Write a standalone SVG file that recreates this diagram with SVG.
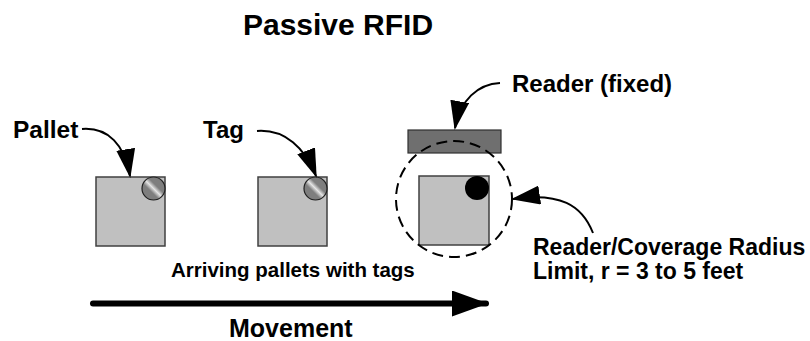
<svg xmlns="http://www.w3.org/2000/svg" width="810" height="341" viewBox="0 0 810 341">
  <style>
    .lbl { font-family: "Liberation Sans", Arial, sans-serif; font-weight: bold; fill: #000; }
    .pallet { fill: #c0c0c0; stroke: #404040; stroke-width: 1.5; }
    .tag { fill: url(#tagShine); stroke: #202020; stroke-width: 1.2; }
    .callout { fill: none; stroke: #000; stroke-width: 2; marker-end: url(#head); }
  </style>
  <defs>
    <linearGradient id="tagShine" x1="0" y1="1" x2="1" y2="0">
      <stop offset="0" stop-color="#7e7e7e"/>
      <stop offset="0.38" stop-color="#7e7e7e"/>
      <stop offset="0.5" stop-color="#e4e4e4"/>
      <stop offset="0.62" stop-color="#7e7e7e"/>
      <stop offset="1" stop-color="#7e7e7e"/>
    </linearGradient>
    <marker id="head" markerUnits="userSpaceOnUse" markerWidth="29" markerHeight="19" refX="27" refY="9.5" orient="auto" viewBox="0 0 29 19">
      <path d="M0,0 L29,9.5 L0,19 z" fill="#000"/>
    </marker>
    <marker id="bigHead" markerUnits="userSpaceOnUse" markerWidth="36" markerHeight="26" refX="34" refY="13" orient="auto" viewBox="0 0 36 26">
      <path d="M0,0 L36,13 L0,26 z" fill="#000"/>
    </marker>
  </defs>

  <text class="lbl" x="338" y="35" font-size="30" text-anchor="middle">Passive RFID</text>

  <g id="pallet1">
    <rect class="pallet" x="96" y="177" width="69" height="69"/>
    <circle class="tag" cx="153.5" cy="188.5" r="11.5"/>
  </g>
  <g id="pallet2">
    <rect class="pallet" x="258" y="177" width="69" height="69"/>
    <circle class="tag" cx="315.5" cy="188.5" r="11.5"/>
  </g>
  <g id="reader">
    <rect x="408" y="130" width="93" height="23" fill="#6f6f6f" stroke="#303030" stroke-width="1.2"/>
  </g>
  <g id="pallet3">
    <rect class="pallet" x="419" y="176" width="70" height="69"/>
    <circle cx="477" cy="188" r="12" fill="#000"/>
  </g>
  <g id="coverage">
    <circle cx="454" cy="199" r="58" fill="none" stroke="#000" stroke-width="2" stroke-dasharray="11 6"/>
  </g>

  <g id="labels">
    <text class="lbl" x="13" y="137.5" font-size="24.5">Pallet</text>
    <text class="lbl" x="203" y="137.5" font-size="24">Tag</text>
    <text class="lbl" x="512" y="92" font-size="24">Reader (fixed)</text>
    <text class="lbl" x="533" y="255" font-size="23">Reader/Coverage Radius</text>
    <text class="lbl" x="533" y="279" font-size="23">Limit, r = 3 to 5 feet</text>
    <text class="lbl" x="171" y="277" font-size="20.5">Arriving pallets with tags</text>
    <text class="lbl" x="229" y="337" font-size="25">Movement</text>
  </g>

  <g id="connectors">
    <path class="callout" d="M82,129 C108,127 125,145 130,176"/>
    <path class="callout" d="M257,131 C285,129 305,148 316,176"/>
    <path class="callout" d="M500,83 C478,84 460,100 455,128"/>
    <path class="callout" d="M593,233 C582,205 560,192 513,199"/>
    <path d="M93,303.5 L486,303.5" fill="none" stroke="#000" stroke-width="6" stroke-linecap="round" marker-end="url(#bigHead)"/>
  </g>
</svg>
